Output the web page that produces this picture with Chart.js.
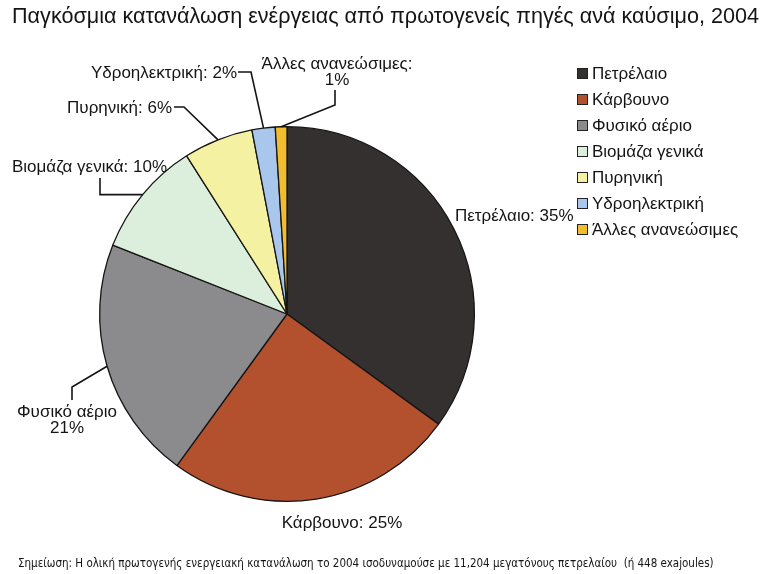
<!DOCTYPE html>
<html>
<head>
<meta charset="utf-8">
<script src="https://cdn.jsdelivr.net/npm/chart.js@4/dist/chart.umd.min.js"></script>
<style>
  body { margin: 0; background: #fff; }
  #wrap { position: relative; width: 767px; height: 574px; overflow: hidden; font-family: "Liberation Sans", Arial, sans-serif; color: #141414; }
  #title { position: absolute; left: 12px; top: 3px; font-size: 21.6px; line-height: 26px; white-space: nowrap; }
  #note { position: absolute; left: 18px; top: 555px; font-family: "Liberation Sans Narrow", "DejaVu Sans Condensed", sans-serif; font-size: 11.5px; line-height: 16px; white-space: pre; }
  #legend { position: absolute; left: 577px; top: 62px; margin: 0; padding: 0; list-style: none; }
  #legend li { height: 26px; line-height: 24px; font-size: 17px; white-space: nowrap; }
  #legend span { display: inline-block; width: 9px; height: 9px; border: 1px solid #222; margin-right: 4px; vertical-align: 0px; }
  canvas { position: absolute; left: 0; top: 0; }
</style>
</head>
<body>
<div id="wrap">
  <canvas id="pie" width="767" height="574"></canvas>
  <div id="title">Παγκόσμια κατανάλωση ενέργειας από πρωτογενείς πηγές ανά καύσιμο, 2004</div>
  <ul id="legend"></ul>
  <div id="note">Σημείωση: Η ολική πρωτογενής ενεργειακή κατανάλωση το 2004 ισοδυναμούσε με 11,204 μεγατόνους πετρελαίου  (ή 448 exajoules)</div>
</div>
<script>
// --- Data ---
const fuels = ['Πετρέλαιο', 'Κάρβουνο', 'Φυσικό αέριο', 'Βιομάζα γενικά', 'Πυρηνική', 'Υδροηλεκτρική', 'Άλλες ανανεώσιμες'];
const shares = [35, 25, 21, 10, 6, 2, 1];
const labelSep = [': ', ': ', '\n', ': ', ': ', ': ', ':\n'];

// --- Styles ---
const colours = ['#34302f', '#b3512f', '#8b8b8d', '#dcefdc', '#f4f1a3', '#a9c7ec', '#f1bd2f'];

// label placement: text anchor + bend points of the leader line (from the text towards the slice)
const labelPos = [
    {x: 455, y: 216, align: 'left', line: null},
    {x: 342, y: 523, align: 'center', line: null},
    {x: 67, y: 412, align: 'center', line: [[72, 400], [72, 387]]},
    {x: 12, y: 167, align: 'left', line: [[100, 178], [100, 'a']]},
    {x: 172, y: 108, align: 'right', line: [[174, 107], [184, 107]]},
    {x: 237, y: 73, align: 'right', line: [[238, 72], [251, 72]]},
    {x: 337, y: 64, align: 'center', line: [[335, 90], [335, 105]]}
];

// --- Leader labels ---
const leaderLabels = {
    id: 'leaderLabels',
    afterDatasetsDraw(chart) {
        const ctx = chart.ctx;
        const arcs = chart.getDatasetMeta(0).data;
        ctx.save();
        ctx.font = '17px "Liberation Sans", Arial, sans-serif';
        ctx.fillStyle = '#141414';
        ctx.strokeStyle = '#141414';
        ctx.lineWidth = 1.6;
        ctx.textBaseline = 'middle';
        arcs.forEach((arc, i) => {
            const p = arc.getProps(['x', 'y', 'startAngle', 'endAngle', 'outerRadius'], true);
            const mid = (p.startAngle + p.endAngle) / 2;
            const ax = p.x + Math.cos(mid) * p.outerRadius;
            const ay = p.y + Math.sin(mid) * p.outerRadius;
            const pos = labelPos[i];
            if (pos.line) {
                ctx.beginPath();
                pos.line.forEach((pt, k) => {
                    const px = pt[0], py = pt[1] === 'a' ? ay : pt[1];
                    if (k === 0) ctx.moveTo(px, py); else ctx.lineTo(px, py);
                });
                ctx.lineTo(ax, ay);
                ctx.stroke();
            }
            ctx.textAlign = pos.align;
            const text = fuels[i] + labelSep[i] + shares[i] + '%';
            text.split('\n').forEach((ln, k) => ctx.fillText(ln, pos.x, pos.y + k * 16));
        });
        ctx.restore();
    }
};

const chart = new Chart(document.getElementById('pie'), {
    type: 'pie',
    data: {
        labels: fuels,
        datasets: [{
            data: shares,
            backgroundColor: colours,
            borderColor: '#151515',
            borderWidth: 1.3
        }]
    },
    options: {
        responsive: false,
        animation: false,
        layout: {padding: {left: 99, right: 292, top: 126, bottom: 72}},
        plugins: {legend: {display: false}, tooltip: {enabled: false}}
    },
    plugins: [leaderLabels]
});

// --- HTML legend from the chart's own items ---
const ul = document.getElementById('legend');
chart.options.plugins.legend.labels.generateLabels(chart).forEach(item => {
    const li = document.createElement('li');
    const box = document.createElement('span');
    box.style.background = item.fillStyle;
    li.appendChild(box);
    li.appendChild(document.createTextNode(item.text));
    ul.appendChild(li);
});
</script>
</body>
</html>
